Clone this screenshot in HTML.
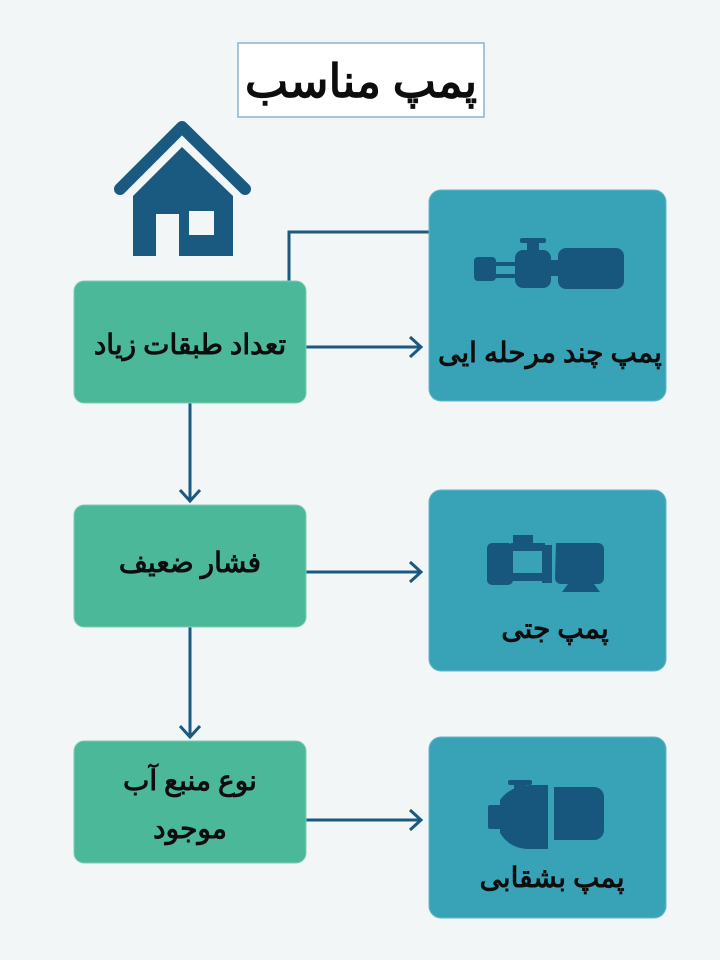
<!DOCTYPE html>
<html><head><meta charset="utf-8"><style>
body{margin:0;background:#f3f6f7;}
svg{display:block}
text{font-family:"Liberation Serif","DejaVu Serif",serif;font-weight:bold;fill:#0d0d0d;}
</style></head><body>
<svg width="720" height="960" viewBox="0 0 720 960">
<rect width="720" height="960" fill="#f3f6f7"/>
<rect x="238" y="43" width="246" height="74" fill="#fff" stroke="#8fb3c6" stroke-width="1.5"/>
<text x="361" y="97" font-size="46" text-anchor="middle" direction="rtl">پمپ مناسب</text>
<!-- house -->
<polyline points="120,189 182,127 245,189" fill="none" stroke="#1a5a80" stroke-width="12" stroke-linecap="round" stroke-linejoin="round"/>
<path d="M182,147 L233,196 L233,256 L133,256 L133,196 Z" fill="#1a5a80"/>
<rect x="156" y="214" width="23" height="43" fill="#f3f6f7"/>
<rect x="189" y="211" width="25" height="24" fill="#f3f6f7"/>
<!-- connectors -->
<g stroke="#1a5a80" stroke-width="3" fill="none">
<polyline points="289,281 289,232 429,232"/>
<line x1="306" y1="347" x2="420" y2="347"/>
<line x1="306" y1="572" x2="420" y2="572"/>
<line x1="306" y1="820" x2="420" y2="820"/>
<line x1="190" y1="403" x2="190" y2="500"/>
<line x1="190" y1="627" x2="190" y2="736"/>
<polyline points="410,337 421,347 410,357"/>
<polyline points="410,562 421,572 410,582"/>
<polyline points="410,810 421,820 410,830"/>
<polyline points="180,490 190,501 200,490"/>
<polyline points="180,726 190,737 200,726"/>
</g>
<!-- left boxes -->
<g fill="#4bb89a" stroke="#7fcdb4" stroke-width="1">
<rect x="74" y="281" width="232" height="122" rx="10"/>
<rect x="74" y="505" width="232" height="122" rx="10"/>
<rect x="74" y="741" width="232" height="122" rx="10"/>
</g>
<text x="190" y="354" font-size="28" text-anchor="middle" direction="rtl">تعداد طبقات زیاد</text>
<text x="190" y="572" font-size="28" text-anchor="middle" direction="rtl">فشار ضعیف</text>
<text x="190" y="790" font-size="28" text-anchor="middle" direction="rtl">نوع منبع آب</text>
<text x="190" y="838" font-size="28" text-anchor="middle" direction="rtl">موجود</text>
<!-- right boxes -->
<g fill="#38a3b7" stroke="#5fb8c8" stroke-width="1">
<rect x="429" y="190" width="237" height="211" rx="12"/>
<rect x="429" y="490" width="237" height="181" rx="12"/>
<rect x="429" y="737" width="237" height="181" rx="12"/>
</g>
<text x="550" y="362" font-size="28" text-anchor="middle" direction="rtl">پمپ چند مرحله ایی</text>
<text x="555" y="638" font-size="28" text-anchor="middle" direction="rtl">پمپ جتی</text>
<text x="552" y="887" font-size="28" text-anchor="middle" direction="rtl">پمپ بشقابی</text>
<!-- pump icons -->
<g fill="#17577e">
<rect x="474" y="257" width="22" height="24" rx="4"/>
<rect x="494" y="262" width="22" height="4"/>
<rect x="494" y="274" width="22" height="4"/>
<rect x="515" y="250" width="36" height="38" rx="8"/>
<rect x="527" y="240" width="12" height="12"/>
<rect x="520" y="238" width="26" height="5" rx="2"/>
<rect x="548" y="260" width="12" height="16"/>
<rect x="558" y="248" width="66" height="41" rx="8"/>
<!-- jet -->
<rect x="487" y="543" width="26" height="42" rx="5"/>
<rect x="511" y="543" width="34" height="8"/>
<rect x="511" y="573" width="34" height="8"/>
<rect x="513" y="535" width="20" height="8"/>
<rect x="542" y="545" width="10" height="38"/>
<path d="M556,543 h42 a6,6 0 0 1 6,6 v29 a6,6 0 0 1 -6,6 h-37 a6,6 0 0 1 -6,-6 z"/>
<polygon points="568,584 594,584 600,592 562,592"/>
<!-- centrifugal -->
<rect x="488" y="805" width="14" height="24" rx="2"/>
<path d="M500,800 q10,-14 30,-15 h18 v64 h-18 q-20,0 -30,-16 z"/>
<rect x="514" y="782" width="12" height="8"/>
<rect x="508" y="780" width="24" height="5" rx="2"/>
<path d="M554,787 h40 a10,10 0 0 1 10,10 v33 a10,10 0 0 1 -10,10 h-40 z"/>
</g>
</svg>
</body></html>
